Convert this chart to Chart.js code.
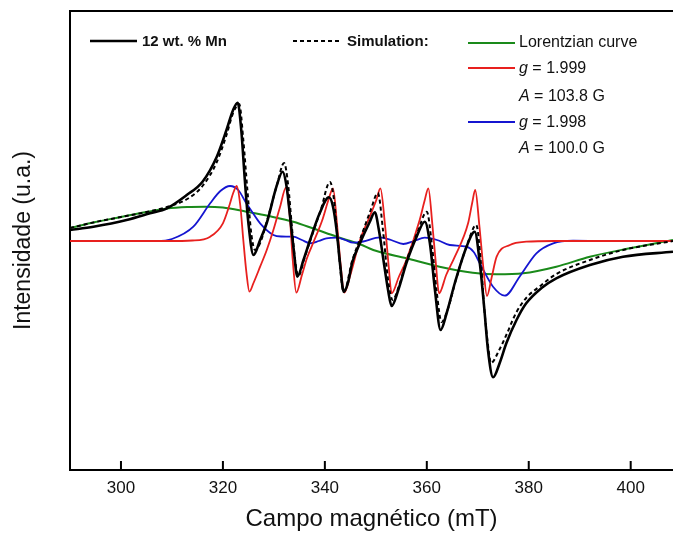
<!DOCTYPE html>
<html>
<head>
<meta charset="utf-8">
<script src="https://cdn.jsdelivr.net/npm/chart.js@4.4.0/dist/chart.umd.min.js"></script>
<style>
  html, body { margin: 0; padding: 0; background: #fff; overflow: hidden; }
</style>
</head>
<body>
<canvas id="epr" width="673" height="534"></canvas>
<script>
// ---------- Dades (camp en mT, intensitat en u.a.) ----------

const campExp = [290, 294.6, 301.1, 305.7, 309, 312.9, 316, 318.8, 320.7, 322, 322.9, 323.6, 324.3, 325, 326, 327.3, 328.6, 330.5, 331.7, 332.5, 333.1, 333.9, 334.6, 335.8, 337.1, 339, 340.8, 341.6, 342.3, 343, 343.7, 344.5, 345.4, 346.9, 348.8, 349.8, 350.6, 351.4, 352.4, 353.1, 354.4, 356, 358, 359.6, 360.6, 361.6, 362.7, 363.9, 365.5, 367.8, 369.4, 370.4, 371.3, 372, 373, 374.3, 375.6, 377.6, 379.5, 382.5, 385.4, 392, 398.5, 408.3];
const intExp = [11, 14.3, 21, 27.7, 32.7, 46, 59.3, 84.3, 111, 131, 138.3, 111, 61, 18, -14, 1, 18, 54.3, 69.3, 54.3, 28, -9, -35.7, -19, 1, 28, 43.7, 34.3, 11, -24, -50.7, -42.3, -21, -2, 19, 28.7, 11, -15.7, -49, -65, -49, -22, 4.3, 19.3, -2, -49, -89, -72, -42, -5.7, 9.3, -22, -69, -109, -136.3, -122, -102.3, -79, -62.3, -47, -37.3, -24, -15.7, -10.7];

const campSim = [290, 295, 300, 305, 309, 313, 316, 318.8, 320.7, 322, 323.2, 324, 324.8, 325.6, 326.3, 327.3, 328.8, 330.6, 332, 332.8, 333.5, 334.2, 334.8, 336, 337.3, 339.2, 341, 341.8, 342.6, 343.7, 345.4, 347, 349, 350.4, 351.4, 352.4, 353.3, 354.6, 356.2, 358.2, 360, 361, 361.9, 362.9, 364.2, 365.7, 367.9, 369.7, 370.6, 371.3, 372, 372.6, 374.2, 375.6, 377.5, 379.5, 382.5, 385.4, 392, 398.5, 408.3];
const intSim = [13, 19, 24, 29, 34, 42, 55, 79, 106, 128, 137, 101, 51, 6, -9, -2, 23, 56, 78, 56, 16, -21, -35, -17, 3, 31, 59, 41, -4, -51, -19, 3, 31, 48, 11, -39, -59, -44, -17, 9, 29.3, -4, -49, -81, -67, -39, -4, 16, -21, -69, -104, -122, -109, -94, -72, -57, -44, -33, -19, -9, 0];

const campVermell = [290, 309, 314, 317.5, 320, 321.3, 322, 322.7, 323.4, 324, 324.6, 325.2, 326, 327.3, 328.6, 329.9, 331.2, 332.4, 333.1, 333.7, 334.4, 335.5, 336.5, 337.7, 339.5, 340.7, 341.6, 342.4, 343.1, 343.8, 345, 346.9, 348.8, 350.1, 350.9, 351.8, 352.5, 353.1, 354.5, 356, 358.6, 359.6, 360.3, 361.1, 361.8, 362.4, 363.8, 365.5, 368.1, 368.9, 369.5, 370.3, 371.1, 371.8, 372.7, 373.7, 376.3, 379.5, 385, 408.3];
const intVermell = [0, 0, 0.5, 4.3, 17.7, 36, 47.7, 55, 36, 1, -31, -50.7, -42, -25.7, -9, 11, 34, 53.7, 26, -19, -51.7, -34, -17, -2, 21, 41, 52.7, 16, -24, -51.7, -34, 1, 24.3, 41, 52.7, 16, -24, -52.3, -36, -19, 21, 41, 52.7, 16, -24, -52.3, -34, -15.7, 17.7, 38, 51, 16, -27, -55, -37, -15.7, -4, -0.7, 0, 0];

const campBlau = [290, 307, 310, 314.2, 317.5, 319.5, 321.4, 323, 324.6, 326, 327.3, 329.9, 331.5, 333.8, 335.5, 337.1, 338.8, 340.3, 342.3, 344, 345.5, 347.5, 350.8, 353, 355.4, 357.5, 359.6, 362, 364.5, 367.8, 369.2, 370.4, 373, 375.3, 378.2, 381.5, 384.8, 388.7, 395, 408.3];
const intBlau = [0, 0, 2, 14.3, 37.7, 50, 55, 51, 37.7, 27, 17.7, 6, 4.5, 4.3, 1, -2.3, 0, 2.7, 3.3, 1, -1.7, -0.5, 3.7, 1, -3, 0, 3.3, 1, -4, -5.7, -11, -22.3, -45.7, -54.7, -35.7, -12.3, -2.3, 0.3, 0, 0];

const campLorentz = [290, 295, 300, 305, 309, 313, 316.5, 320, 324.6, 329, 333.8, 338, 342.3, 346.9, 349.5, 356, 362.5, 369, 373.7, 378.9, 385.4, 392, 399.8, 408.3];
const intLorentz = [13, 19, 24, 29, 32.5, 34, 34.3, 33.5, 29.3, 25, 19.3, 12, 4.3, -3.3, -9, -17.3, -25.7, -31.7, -33.3, -32.3, -25.7, -15.7, -7.3, 1];

const ticksCamp = [300, 320, 340, 360, 380, 400];

const punts = (xs, ys) => xs.map((x, i) => ({ x: x, y: ys[i] }));

const linia = (dades, color, gruix, extra) => Object.assign({
  data: dades,
  borderColor: color,
  borderWidth: gruix,
  pointRadius: 0,
  fill: false,
  tension: 0.4,
  cubicInterpolationMode: "monotone"
}, extra || {});

// ---------- Marc, ticks interiors i llegenda ----------

const marc = {
  id: "marc",
  afterDatasetsDraw(chart) {
    const { ctx, chartArea: a, scales: { x } } = chart;
    ctx.save();
    ctx.strokeStyle = "#000";
    ctx.lineWidth = 2;
    ctx.beginPath();
    ctx.moveTo(a.left, a.top);
    ctx.lineTo(a.right, a.top);
    ticksCamp.forEach(v => {
      const px = x.getPixelForValue(v);
      ctx.moveTo(px, a.bottom);
      ctx.lineTo(px, a.bottom - 9);
    });
    ctx.stroke();

    const traç = (x1, x2, y, color, gruix, dash) => {
      ctx.beginPath();
      ctx.strokeStyle = color;
      ctx.lineWidth = gruix;
      ctx.setLineDash(dash || []);
      ctx.moveTo(x1, y);
      ctx.lineTo(x2, y);
      ctx.stroke();
      ctx.setLineDash([]);
    };

    const text = (parts, x, y) => {
      let cx = x;
      parts.forEach(p => {
        ctx.font = p[1];
        ctx.fillText(p[0], cx, y);
        cx += ctx.measureText(p[0]).width;
      });
    };

    const regular = "16px 'Liberation Sans', Arial, sans-serif";
    const cursiva = "italic 16px 'Liberation Sans', Arial, sans-serif";
    const negreta = "bold 15px 'Liberation Sans', Arial, sans-serif";

    ctx.fillStyle = "#111";
    ctx.textBaseline = "middle";
    ctx.textAlign = "left";

    traç(90, 137, 41, "#000", 2.5);
    text([["12 wt. % Mn", negreta]], 142, 42);

    traç(293, 340, 41, "#000", 2, [4, 3]);
    text([["Simulation:", negreta]], 347, 42);

    traç(468, 515, 43, "#1a8a1a", 2);
    text([["Lorentzian curve", regular]], 519, 43);

    traç(468, 515, 68, "#e8201e", 2);
    text([["g", cursiva], [" = 1.999", regular]], 519, 69);
    text([["A", cursiva], [" = 103.8 G", regular]], 519, 97);

    traç(468, 515, 122, "#1515d0", 2);
    text([["g", cursiva], [" = 1.998", regular]], 519, 123);
    text([["A", cursiva], [" = 100.0 G", regular]], 519, 149);

    ctx.restore();
  }
};

// ---------- Gràfic ----------

new Chart(document.getElementById("epr"), {
  type: "line",
  data: {
    datasets: [
      linia(punts(campExp, intExp), "#000", 2.6, { order: 0 }),
      linia(punts(campSim, intSim), "#000", 2, { borderDash: [4, 3], order: 1 }),
      linia(punts(campVermell, intVermell), "#e8201e", 1.8, { order: 2 }),
      linia(punts(campBlau, intBlau), "#1515d0", 1.8, { order: 3 }),
      linia(punts(campLorentz, intLorentz), "#1a8a1a", 2, { order: 4 })
    ]
  },
  options: {
    responsive: false,
    animation: false,
    layout: { padding: { top: 11, right: 0, bottom: 0, left: 0 } },
    plugins: {
      legend: { display: false },
      tooltip: { enabled: false }
    },
    scales: {
      x: {
        type: "linear",
        min: 290,
        max: 408.3,
        afterFit: s => { s.height = 64; },
        grid: { display: false, drawTicks: false },
        border: { display: true, color: "#000", width: 2 },
        ticks: {
          stepSize: 20,
          includeBounds: false,
          maxRotation: 0,
          padding: 8,
          color: "#111",
          font: { family: "'Liberation Sans', Arial, sans-serif", size: 17 }
        },
        title: {
          display: true,
          text: "Campo magnético (mT)",
          color: "#111",
          padding: { top: 0, bottom: 0 },
          font: { family: "'Liberation Sans', Arial, sans-serif", size: 24 }
        }
      },
      y: {
        min: -229,
        max: 230,
        afterFit: s => { s.width = 70; },
        grid: { display: false, drawTicks: false },
        border: { display: true, color: "#000", width: 2 },
        ticks: { display: false },
        title: {
          display: true,
          text: "Intensidade (u.a.)",
          color: "#111",
          padding: { top: 10, bottom: 0 },
          font: { family: "'Liberation Sans', Arial, sans-serif", size: 23 }
        }
      }
    }
  },
  plugins: [marc]
});
</script>
</body>
</html>
